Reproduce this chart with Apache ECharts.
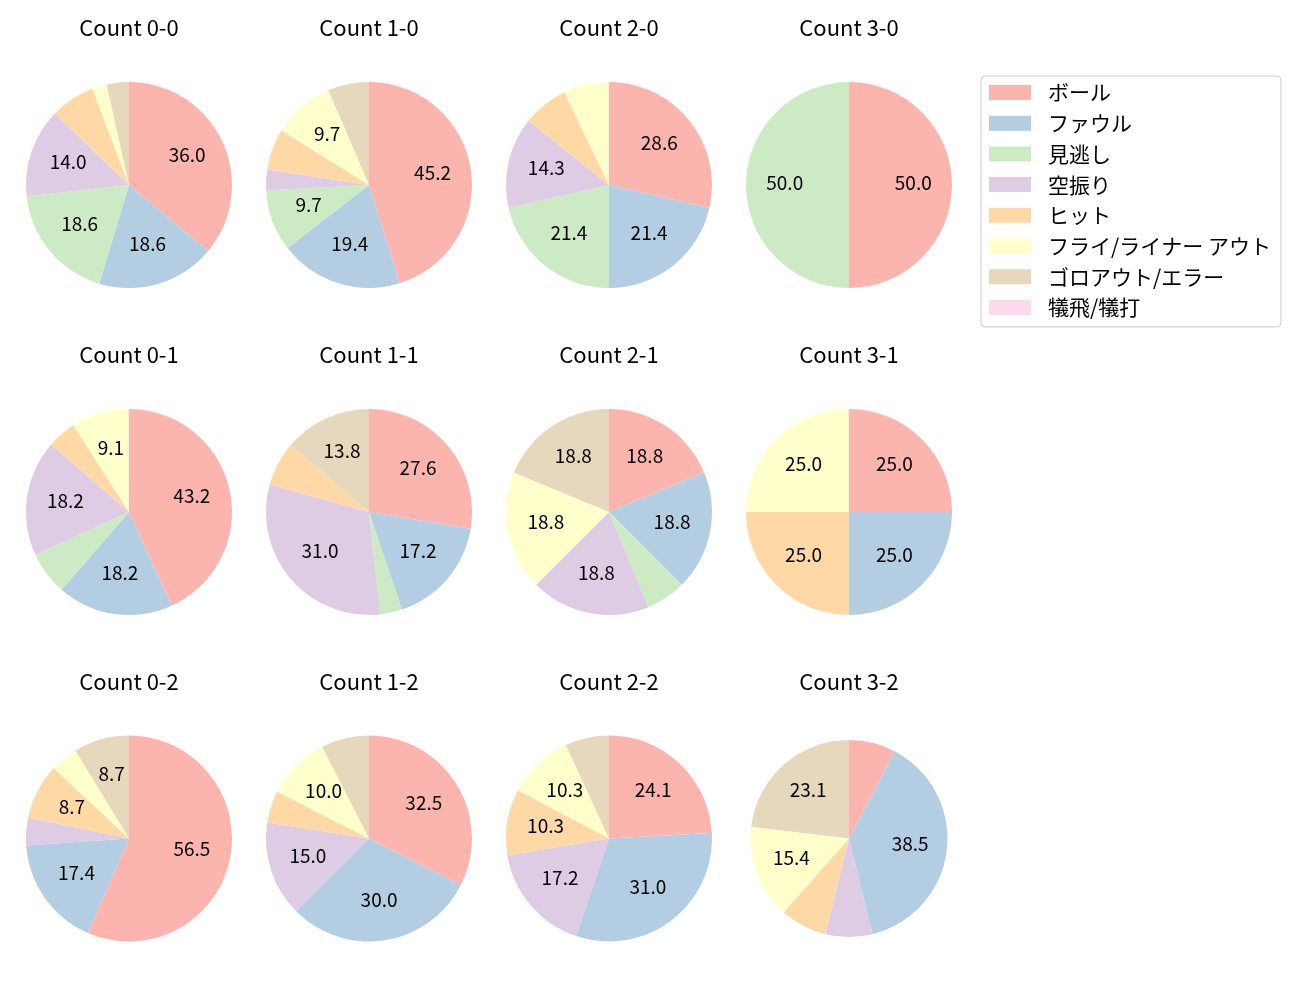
<!DOCTYPE html>
<html><head><meta charset="utf-8">
<script src="https://cdn.jsdelivr.net/npm/echarts@6/dist/echarts.min.js"></script>
<style>html,body{margin:0;padding:0;background:#fff}#c{width:1300px;height:1000px}</style>
</head><body><div id="c"></div>
<script>
const categories = ['ボール','ファウル','見逃し','空振り','ヒット','フライ/ライナー アウト','ゴロアウト/エラー','犠飛/犠打'];
const colors = ['#fbb4ae','#b3cde3','#ccebc5','#decbe4','#fed9a6','#ffffcc','#e5d8bd','#fddaec'];
const titles = ['Count 0-0','Count 1-0','Count 2-0','Count 3-0','Count 0-1','Count 1-1','Count 2-1','Count 3-1','Count 0-2','Count 1-2','Count 2-2','Count 3-2'];
// counts per category (same order as categories)
const c00 = [31,16,16,12,6,2,3,0];
const c10 = [14,6,3,1,2,3,2,0];
const c20 = [4,3,3,2,1,1,0,0];
const c30 = [1,0,1,0,0,0,0,0];
const c01 = [19,8,3,8,2,4,0,0];
const c11 = [8,5,1,9,2,0,4,0];
const c21 = [3,3,1,3,0,3,3,0];
const c31 = [1,1,0,0,1,1,0,0];
const c02 = [13,4,0,1,2,1,2,0];
const c12 = [13,12,0,6,2,4,3,0];
const c22 = [7,9,0,5,3,3,2,0];
const c32 = [1,5,0,1,1,2,3,0];
const counts = [c00,c10,c20,c30,c01,c11,c21,c31,c02,c12,c22,c32];

const cx = [129,369,609,849];
const cy = [185,512,838.5];
const font = '"Noto Sans CJK JP", "Noto Sans", sans-serif';

const series = [];
const graphic = [];
counts.forEach((arr, i) => {
  const col = i % 4, row = Math.floor(i / 4);
  const r = (i === 11) ? 98.5 : 103;
  const total = arr.reduce((a,b)=>a+b,0);
  const center = [cx[col], cy[row]];
  const base = [], lab = [];
  arr.forEach((v, k) => {
    const pct = v / total * 100;
    base.push({name: categories[k], value: v, itemStyle:{color: colors[k]}});
    if (v > 0) lab.push({name: categories[k], value: v, itemStyle:{color:'rgba(0,0,0,0)'},
      label:{show: pct >= 8, formatter: pct.toFixed(1)}});
  });
  series.push({type:'pie', center, radius:[0, r], startAngle:90, clockwise:true, silent:true,
    label:{show:false}, labelLine:{show:false}, itemStyle:{borderWidth:0}, data: base, animation:false});
  series.push({type:'pie', center, radius:[r*0.19, r], startAngle:90, clockwise:true, silent:true,
    label:{show:true, position:'inside', color:'#000', fontSize:19, fontFamily:font, offset:[0,-2.5]},
    labelLine:{show:false}, itemStyle:{borderWidth:0}, data: lab, animation:false});
  graphic.push({type:'text', x: cx[col], y: cy[row]-157, silent:true,
    style:{text: titles[i], textAlign:'center', textVerticalAlign:'middle',
      fontSize:22, fontFamily:font, fill:'#000'}});
});

const chart = echarts.init(document.getElementById('c'), null, {renderer:'canvas'});
chart.setOption({
  animation:false,
  graphic,
  legend:{
    orient:'vertical', left:981, top:76,
    data: categories.map((n,k)=>({name:n, icon:'rect', itemStyle:{color:colors[k]}})),
    itemWidth:42, itemHeight:15, itemGap:9.7,
    selectedMode:false,
    borderColor:'#cccccc', borderWidth:1, borderRadius:4,
    padding:[6, 10, 9, 8],
    textStyle:{fontSize:21, lineHeight:21, color:'#000', fontFamily:font, padding:[0,0,0,12]}
  },
  series
});
</script></body></html>
